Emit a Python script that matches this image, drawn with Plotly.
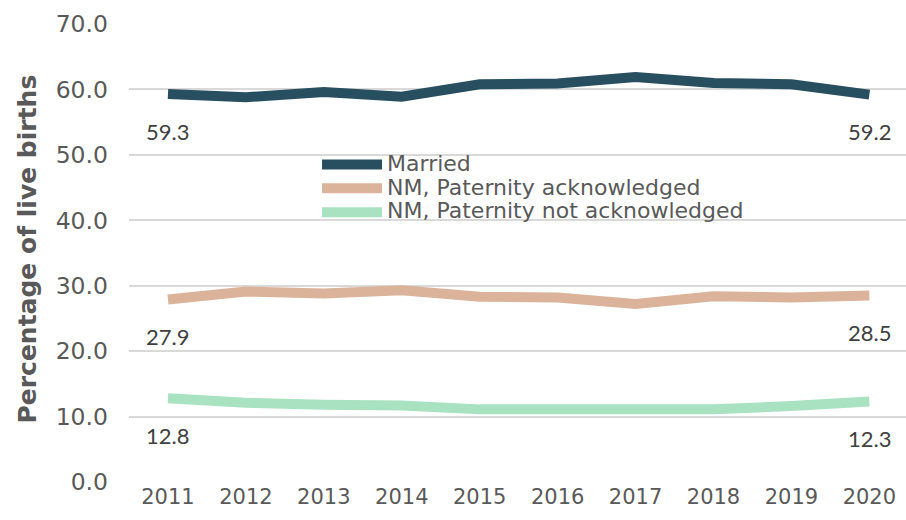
import plotly.graph_objects as go

years = ["2011", "2012", "2013", "2014", "2015", "2016", "2017", "2018", "2019", "2020"]
married = [59.3, 58.8, 59.6, 58.9, 60.8, 60.9, 61.9, 61.0, 60.8, 59.2]
nm_ack = [27.9, 29.1, 28.8, 29.3, 28.3, 28.2, 27.2, 28.4, 28.2, 28.5]
nm_not_ack = [12.8, 12.1, 11.8, 11.7, 11.1, 11.1, 11.1, 11.1, 11.6, 12.3]
series_names = ["Married", "NM, Paternity acknowledged", "NM, Paternity not acknowledged"]
y_ticks = [0, 10, 20, 30, 40, 50, 60, 70]

colors = ["#284f60", "#dbb39a", "#a8e2c1"]
series = [married, nm_ack, nm_not_ack]

fig = go.Figure()
for name, vals, col in zip(series_names, series, colors):
    fig.add_trace(go.Scatter(
        x=years, y=vals, name=f'<span style="font-size:22px">{name}</span>', mode="lines",
        line=dict(color=col, width=10, shape="linear"),
    ))

annotations = []
for vals in series:
    for idx in (0, len(years) - 1):
        annotations.append(dict(
            x=idx, y=vals[idx], xref="x", yref="y",
            text=f"{vals[idx]:.1f}", showarrow=False, yshift=-37,
            font=dict(family="Lato, Liberation Sans", size=22, color="#404040"),
        ))
annotations.append(dict(
    x=-0.131, y=0.508, xref="paper", yref="paper", xanchor="center", yanchor="middle",
    text="<b>Percentage of live births</b>", textangle=-90, showarrow=False,
    font=dict(family="DejaVu Sans, Verdana", size=25, color="#595959"),
))

fig.update_layout(
    width=906, height=520,
    margin=dict(l=129, r=0, t=24, b=38),
    paper_bgcolor="white", plot_bgcolor="white",
    showlegend=True,
    legend=dict(
        x=0.242, y=0.73, xanchor="left", yanchor="top",
        bgcolor="rgba(255,255,255,0)", borderwidth=0,
        font=dict(family="DejaVu Sans, Verdana", size=16, color="#595959"),
        tracegroupgap=0, itemwidth=60,
    ),
    annotations=annotations,
    xaxis=dict(
        type="category", range=[-0.5, 9.47], showgrid=False, zeroline=False,
        showline=False, ticks="",
        tickfont=dict(family="DejaVu Sans, Verdana", size=21, color="#595959"),
    ),
    yaxis=dict(
        range=[0, 70], tickvals=y_ticks, ticktext=[f"{v:.1f}" for v in y_ticks],
        showgrid=True, gridcolor="#d9d9d9", gridwidth=2, zeroline=False,
        showline=False, ticks="", ticklabelstandoff=20,
        tickfont=dict(family="DejaVu Sans, Verdana", size=23.5, color="#595959"),
    ),
)

fig.write_html("out.html", config={"displayModeBar": False},
               post_script="document.body.style.margin='0';")
